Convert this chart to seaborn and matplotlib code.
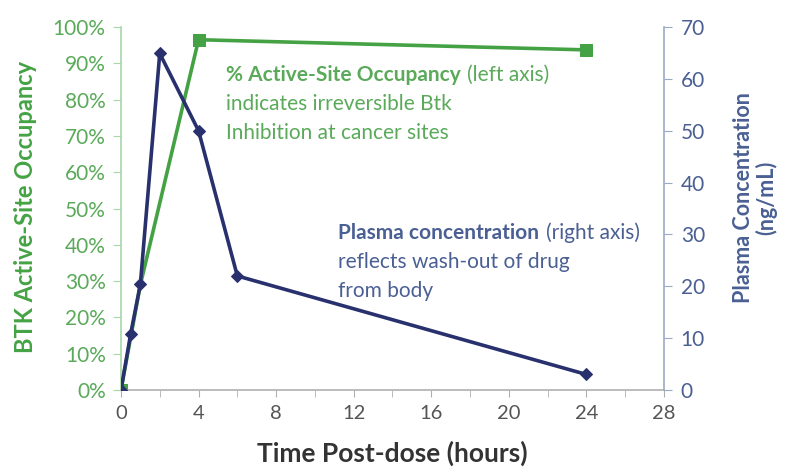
import numpy as np
import pandas as pd
import matplotlib
matplotlib.use("Agg")
import matplotlib.pyplot as plt
import seaborn as sns
from matplotlib.offsetbox import TextArea, HPacker, VPacker, AnnotationBbox
from matplotlib.ticker import MultipleLocator, PercentFormatter

# occupancy (left axis, %)
occ_hours = [0, 1, 4, 24]
occ_pct = [0, 29, 96.5, 93.7]

# plasma concentration (right axis, ng/mL)
pk_hours = [0, 0.5, 1, 2, 4, 6, 24]
pk_conc = [0, 10.8, 20.4, 64.9, 50.0, 22.0, 3.0]

green = "#44a244"
green_txt = "#5aaa5a"
navy = "#28306e"
navy_txt = "#4a5f93"

sns.set_style("white")
plt.rcParams["font.family"] = ["Lato", "DejaVu Sans"]

fig = plt.figure(figsize=(7.87, 4.69), dpi=100)
ax = fig.add_axes([0.1537, 0.1684, 0.69, 0.7740])
ax2 = ax.twinx()

sns.lineplot(x=occ_hours, y=occ_pct, ax=ax, color=green, lw=2.6, marker="s",
             markersize=8.5, markeredgecolor=green, markevery=[0, 2, 3])
sns.lineplot(x=pk_hours, y=pk_conc, ax=ax2, color=navy, lw=2.6, marker="D",
             markersize=6.5, markeredgecolor=navy)

ax.set_xlim(0, 28)
ax.set_ylim(0, 100)
ax2.set_ylim(0, 70)
ax.set_xticks(range(0, 29, 4))
ax.xaxis.set_minor_locator(MultipleLocator(2))
ax.yaxis.set_major_locator(MultipleLocator(10))
ax.yaxis.set_major_formatter(PercentFormatter(decimals=0))
ax2.yaxis.set_major_locator(MultipleLocator(10))

ax.spines["top"].set_visible(False)
ax2.spines["top"].set_visible(False)
ax.spines["right"].set_visible(False)
ax2.spines["left"].set_visible(False)
ax2.spines["bottom"].set_visible(False)
ax.spines["left"].set_color("#a8d8a8")
ax.spines["bottom"].set_color("#b0b0b0")
ax2.spines["right"].set_color("#9aaac6")
for s in ax.spines.values():
    s.set_linewidth(1.2)
ax2.spines["right"].set_linewidth(1.2)

ax.tick_params(axis="y", left=True, length=6, pad=5, color="#a8d8a8", labelcolor=green_txt, labelsize=15)
ax.tick_params(axis="x", which="both", bottom=True, length=5, pad=6, color="#b0b0b0",
               labelcolor="#555555", labelsize=14.5)
ax2.tick_params(axis="y", right=True, length=6, pad=6, color="#9aaac6", labelcolor=navy_txt, labelsize=15)

ax.set_xlabel("Time Post-dose (hours)", fontsize=19, fontweight="bold", color="#333333", labelpad=13)
ax.set_ylabel("BTK Active-Site Occupancy", fontsize=17, fontweight="bold", color=green)
ax2.set_ylabel("Plasma Concentration\n(ng/mL)", fontsize=15.5, fontweight="bold", color=navy_txt,
               linespacing=1.05)
ax.yaxis.set_label_coords(-0.155, 0.503)
ax2.yaxis.set_label_coords(1.127, 0.53)

def note(axis, x, y, bold, rest, lines, color):
    first = HPacker(children=[
        TextArea(bold, textprops=dict(color=color, fontsize=15, fontweight="bold")),
        TextArea(rest, textprops=dict(color=color, fontsize=15))], pad=0, sep=5)
    rows = [first] + [TextArea(t, textprops=dict(color=color, fontsize=15)) for t in lines]
    box = VPacker(children=rows, pad=0, sep=6.5, align="left")
    ab = AnnotationBbox(box, (x, y), xycoords="data", box_alignment=(0, 1), frameon=False)
    axis.add_artist(ab)

note(ax, 5.4, 89.5, "% Active-Site Occupancy", "(left axis)",
     ["indicates irreversible Btk", "Inhibition at cancer sites"], green_txt)
note(ax, 11.2, 46.3, "Plasma concentration", "(right axis)",
     ["reflects wash-out of drug", "from body"], navy_txt)

fig.savefig("out.png", dpi=100)
